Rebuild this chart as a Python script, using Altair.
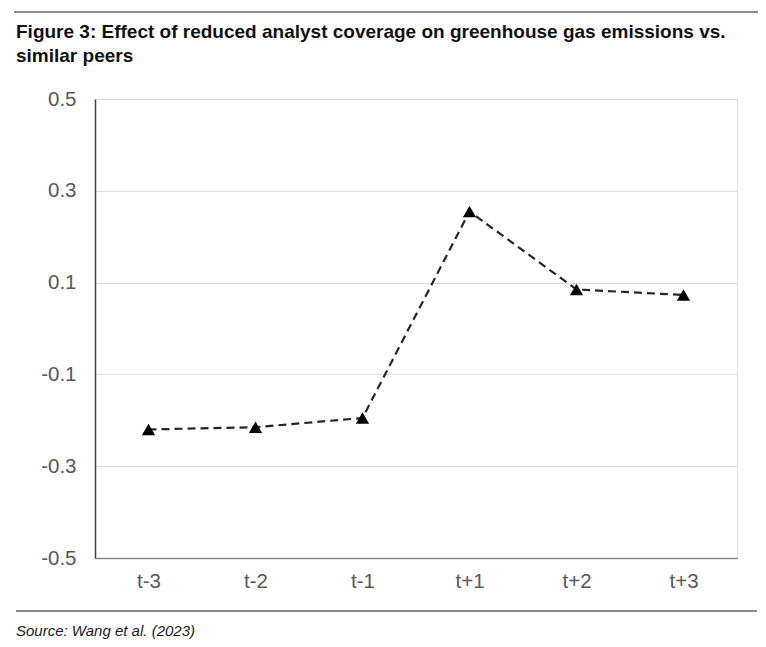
import altair as alt
import pandas as pd

# ---- data ----
periods = ["t-3", "t-2", "t-1", "t+1", "t+2", "t+3"]
effects = [-0.22, -0.215, -0.195, 0.255, 0.085, 0.073]
y_ticks = [-0.5, -0.3, -0.1, 0.1, 0.3, 0.5]
title_lines = [
    "Figure 3: Effect of reduced analyst coverage on greenhouse gas emissions vs.",
    "similar peers",
]
source_text = "Source: Wang et al. (2023)"

df = pd.DataFrame({"period": periods, "effect": effects})

W, H = 642, 459
PAD = {"left": 87, "top": 91, "right": 21, "bottom": 81}
FONT = "Liberation Sans"

x = alt.X(
    "period:N",
    sort=periods,
    scale=alt.Scale(type="point", padding=0.5),
    axis=alt.Axis(
        title=None, labelAngle=0, labelFontSize=20.5, labelColor="#595959",
        labelPadding=13, ticks=False, domainColor="#8a8a8a", domainWidth=1.5,
        grid=False, labelFont=FONT,
    ),
)
y = alt.Y(
    "effect:Q",
    scale=alt.Scale(domain=[-0.5, 0.5], nice=False, zero=False),
    axis=alt.Axis(
        title=None, values=y_ticks,
        labelExpr="datum.value < 0 ? '-' + format(abs(datum.value), '.1f') : format(datum.value, '.1f')",
        ticks=False, labelPadding=19, grid=True, gridColor="#dcdcdc", gridWidth=1,
        domainColor="#404040", domainWidth=1.5, labelFontSize=20.5,
        labelColor="#595959", labelFont=FONT,
    ),
)

line = alt.Chart(df).mark_line(
    strokeDash=[8, 5], color="#262626", strokeWidth=2.2
).encode(x=x, y=y)

pts = alt.Chart(df).mark_point(
    shape="triangle-up", filled=True, size=175, color="black", opacity=1
).encode(x=x, y=y)

one = pd.DataFrame({"k": [0]})

title1 = alt.Chart(pd.DataFrame({"t": [title_lines[0]]})).mark_text(
    align="left", baseline="alphabetic", fontSize=19, fontWeight="bold",
    font=FONT, color="#111111",
).encode(x=alt.value(-79), y=alt.value(-61), text="t:N")

title2 = alt.Chart(pd.DataFrame({"t": [title_lines[1]]})).mark_text(
    align="left", baseline="alphabetic", fontSize=19, fontWeight="bold",
    font=FONT, color="#111111",
).encode(x=alt.value(-79), y=alt.value(-37), text="t:N")

source = alt.Chart(pd.DataFrame({"t": [source_text]})).mark_text(
    align="left", baseline="alphabetic", fontSize=15, fontStyle="italic",
    font=FONT, color="#1a1a1a",
).encode(x=alt.value(-79), y=alt.value(537), text="t:N")

top_rule = alt.Chart(one).mark_rule(color="#8c8c8c", strokeWidth=2).encode(
    x=alt.value(-81), x2=alt.value(W + PAD["right"]), y=alt.value(-87)
)
bottom_rule = alt.Chart(one).mark_rule(color="#8c8c8c", strokeWidth=2).encode(
    x=alt.value(-79), x2=alt.value(662), y=alt.value(512)
)

chart = (
    alt.layer(line, pts, title1, title2, source, top_rule, bottom_rule)
    .properties(width=W, height=H, padding=PAD, autosize=alt.AutoSizeParams(type="none"))
    .configure_view(stroke="#9a9a9a", strokeWidth=2)
    .configure(font=FONT)
)

chart.save("out.html", embed_options={"renderer": "svg", "actions": False})
